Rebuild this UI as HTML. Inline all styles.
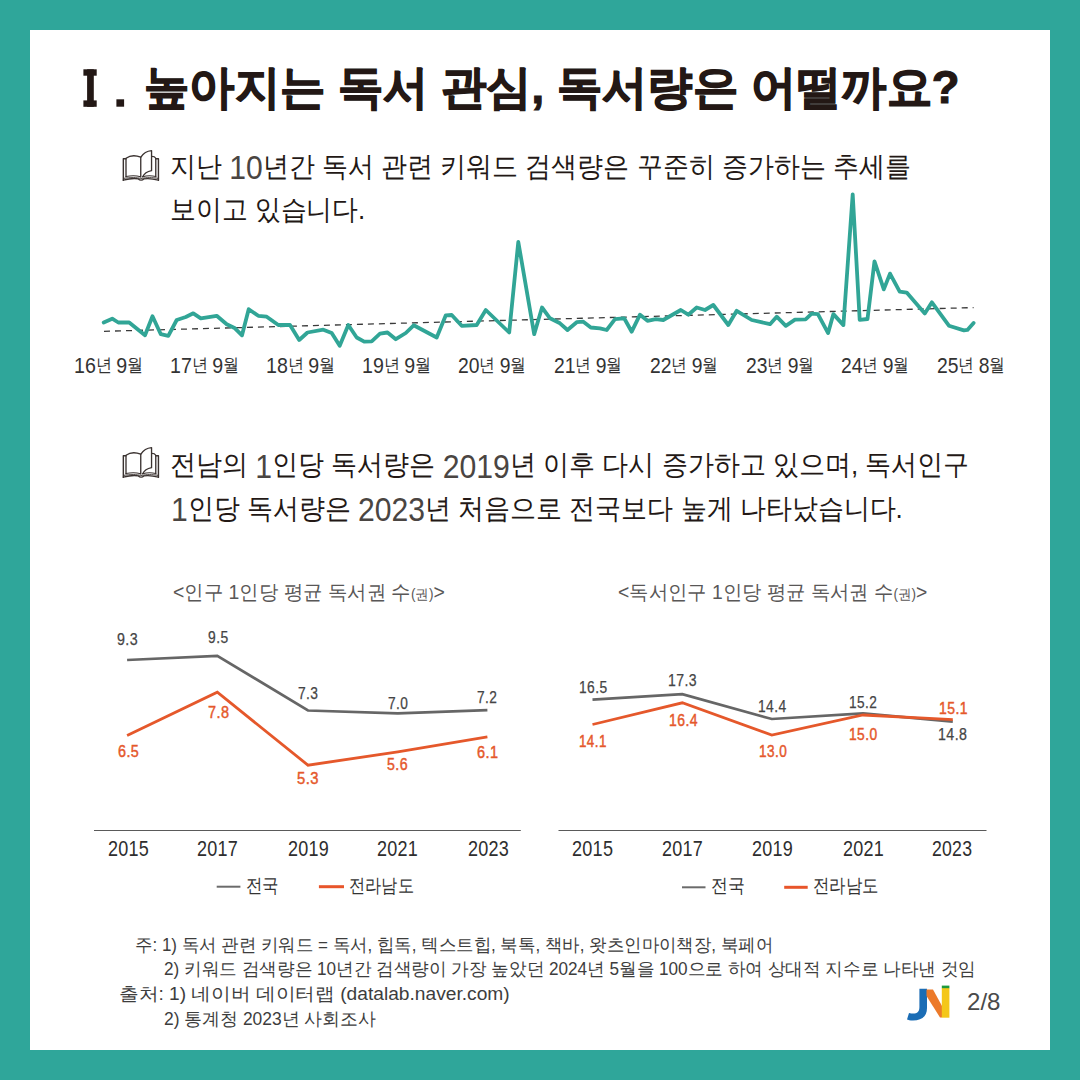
<!DOCTYPE html>
<html><head><meta charset="utf-8">
<style>
html,body{margin:0;padding:0;}
body{width:1080px;height:1080px;position:relative;overflow:hidden;background:#2fa69a;font-family:"Liberation Sans",sans-serif;color:#231815;}
#card{position:absolute;left:30px;top:30px;width:1020px;height:1020px;background:#fff;}
.t{position:absolute;white-space:nowrap;line-height:1;transform-origin:0 0;}
.t small{font-size:14px;}
svg{position:absolute;left:0;top:0;}
</style></head><body>
<div id="card"></div>
<svg width="1080" height="1080" viewBox="0 0 1080 1080">
  <defs>
    <g id="book" fill="none" stroke="#3a3230" stroke-width="30" stroke-linejoin="round" stroke-linecap="round">
      <path d="M180,690 V275 C280,205 420,215 512,252 V695"/>
      <path d="M180,688 C280,668 420,668 508,692" stroke-width="24"/>
      <path d="M515,250 C570,165 650,115 755,105 V555 C660,575 590,620 555,692"/>
      <path d="M760,235 C800,235 835,250 850,275 V690"/>
      <path d="M555,692 C640,668 770,668 850,688" stroke-width="24"/>
      <path d="M180,285 H120 V770 M850,285 H910 V770" stroke-width="32"/>
      <path d="M125,728 C280,705 430,710 505,728 H550 C620,710 770,705 905,728" stroke-width="22"/>
      <path d="M120,770 C250,735 400,728 460,742 C490,778 550,778 580,742 C640,728 780,735 910,770" stroke-width="30"/>
    </g>
  </defs>
  <use href="#book" transform="translate(118,146) scale(0.04444)"/>
  <use href="#book" transform="translate(118,443) scale(0.04444)"/>
  <line x1="104" y1="331.3" x2="973.6" y2="307.6" stroke="#3a3a3a" stroke-width="1.3" stroke-dasharray="6,5"/>
  <path d="M103.7,322.5 L112.2,318.7 L118.3,322.5 L129.2,322.5 L145.0,335.3 L152.5,316.3 L160.8,334.2 L168.3,335.8 L176.7,320.0 L185.8,317.0 L193.3,313.3 L200.8,318.3 L216.7,315.8 L226.7,324.2 L235.0,328.3 L242.0,335.3 L248.7,309.2 L258.3,315.8 L266.7,316.7 L278.3,325.0 L290.0,325.0 L299.2,340.0 L307.5,332.5 L323.3,329.7 L331.7,333.0 L339.7,345.8 L348.3,325.0 L356.7,337.5 L364.2,341.7 L371.7,341.3 L380.0,333.7 L387.5,332.5 L395.8,339.2 L405.8,333.0 L413.7,325.3 L436.7,337.5 L445.8,315.3 L451.7,315.0 L461.7,325.8 L476.7,325.0 L485.8,310.0 L509.2,332.5 L518.3,242.0 L534.2,334.2 L542.0,307.5 L550.0,318.3 L560.0,323.3 L567.5,330.0 L576.7,322.2 L583.3,321.7 L590.8,327.5 L600.0,328.3 L606.7,330.0 L615.0,319.2 L623.3,318.3 L624.2,318.3 L631.7,331.7 L640.0,314.7 L647.5,320.8 L655.8,319.2 L663.3,320.0 L680.8,310.0 L688.3,314.7 L696.7,307.5 L705.0,310.0 L713.3,305.0 L728.3,325.0 L736.7,310.8 L751.7,320.0 L770.0,324.2 L776.7,316.7 L785.8,325.8 L795.0,319.7 L805.6,319.3 L811.7,313.7 L817.9,314.1 L828.1,333.1 L833.4,314.1 L843.4,325.1 L852.7,194.4 L859.7,319.9 L867.5,319.0 L874.5,261.3 L883.8,289.4 L890.0,273.6 L899.7,291.7 L906.7,292.6 L924.8,313.4 L931.9,302.3 L948.9,325.7 L963.9,330.4 L967.4,329.9 L973.6,322.9" fill="none" stroke="#31a596" stroke-width="3.8" stroke-linejoin="round" stroke-linecap="round"/>
  <polyline points="127.1,660 217.3,655.8 308,710.5 397.8,713.4 487.4,710.1" fill="none" stroke="#666" stroke-width="2.7"/>
  <polyline points="127.1,735.6 217.3,692.2 308,765.2 397.8,751.9 487.4,736.8" fill="none" stroke="#e5582b" stroke-width="2.8"/>
  <line x1="94" y1="830.5" x2="520.8" y2="830.5" stroke="#5a5a5a" stroke-width="1.2"/>
  <line x1="216.7" y1="886.7" x2="240.4" y2="886.7" stroke="#6b6b6b" stroke-width="2"/>
  <line x1="318.9" y1="886.7" x2="344" y2="886.7" stroke="#e8552a" stroke-width="3"/>
  <polyline points="592.5,699.7 682.3,694.2 771.8,719 863,713.3 952.8,721.7" fill="none" stroke="#666" stroke-width="2.7"/>
  <polyline points="592.5,724.5 682.3,702.8 771.8,735.1 863,715 952.8,719.6" fill="none" stroke="#e5582b" stroke-width="2.8"/>
  <line x1="558.5" y1="830.5" x2="986.5" y2="830.5" stroke="#5a5a5a" stroke-width="1.2"/>
  <line x1="682" y1="887.3" x2="705.5" y2="887.3" stroke="#6b6b6b" stroke-width="2"/>
  <line x1="784.2" y1="887.3" x2="807.7" y2="887.3" stroke="#e8552a" stroke-width="3"/>
  <g fill="#231815">
    <rect x="83.4" y="69.3" width="13.3" height="6.4"/>
    <rect x="87.1" y="69.3" width="6.7" height="37.5"/>
    <rect x="83.4" y="100.4" width="13.3" height="6.4"/>
    <rect x="116.4" y="99.3" width="7.7" height="7.4"/>
  </g>
  <g id="logo">
    <path d="M919.4,988.7 H927 V1008 C927,1016 922,1020.5 913,1020.5 C910,1020.5 908,1020 907,1019.5 L909,1013 C910.5,1013.5 912,1013.6 913,1013.6 C917.5,1013.6 919.4,1011.5 919.4,1007 Z" fill="#1b6db5"/>
    <path d="M926.5,989.5 H933 L942,1006 V1017.5 H940 L926.5,996 Z" fill="#ec7a2a"/>
    <rect x="941.8" y="988" width="7.6" height="29.7" fill="#f4c71a"/>
    <rect x="941.8" y="985.6" width="7.6" height="2.6" fill="#1f9a3c"/>
  </g>
</svg>
<div class="t" id="title" style="left:143.80px;top:63.70px;transform:scaleX(0.9849);font-size:46px;font-weight:bold;-webkit-text-stroke:1.2px #231815;">높아지는 독서 관심, 독서량은 어떨까요?</div>
<div class="t" id="s1a" style="left:169.89px;top:148.80px;transform:scaleX(0.9280);font-size:28px;">지난 <span style="font-size:1.16em;position:relative;top:0.1em;color:#4a4542;">10</span>년간 독서 관련 키워드 검색량은 꾸준히 증가하는 추세를</div>
<div class="t" id="s1b" style="left:169.89px;top:196.00px;transform:scaleX(0.9231);font-size:28px;">보이고 있습니다.</div>
<div class="t" id="s2a" style="left:169.89px;top:447.30px;transform:scaleX(0.9293);font-size:28px;">전남의 <span style="font-size:1.16em;position:relative;top:0.1em;color:#4a4542;">1</span>인당 독서량은 <span style="font-size:1.16em;position:relative;top:0.1em;color:#4a4542;">2019</span>년 이후 다시 증가하고 있으며, 독서인구</div>
<div class="t" id="s2b" style="left:170.62px;top:490.50px;transform:scaleX(0.9278);font-size:28px;"><span style="font-size:1.16em;position:relative;top:0.1em;color:#4a4542;">1</span>인당 독서량은 <span style="font-size:1.16em;position:relative;top:0.1em;color:#4a4542;">2023</span>년 처음으로 전국보다 높게 나타났습니다.</div>
<div class="t" id="xl0" style="left:74.10px;top:353.00px;transform:scaleX(0.8921);font-size:18px;color:#333;"><span style="font-size:1.22em;position:relative;top:0.09em;">16</span>년 <span style="font-size:1.22em;position:relative;top:0.09em;">9</span>월</div>
<div class="t" id="xl1" style="left:169.91px;top:353.00px;transform:scaleX(0.8921);font-size:18px;color:#333;"><span style="font-size:1.22em;position:relative;top:0.09em;">17</span>년 <span style="font-size:1.22em;position:relative;top:0.09em;">9</span>월</div>
<div class="t" id="xl2" style="left:265.69px;top:353.00px;transform:scaleX(0.8925);font-size:18px;color:#333;"><span style="font-size:1.22em;position:relative;top:0.09em;">18</span>년 <span style="font-size:1.22em;position:relative;top:0.09em;">9</span>월</div>
<div class="t" id="xl3" style="left:361.50px;top:353.00px;transform:scaleX(0.8921);font-size:18px;color:#333;"><span style="font-size:1.22em;position:relative;top:0.09em;">19</span>년 <span style="font-size:1.22em;position:relative;top:0.09em;">9</span>월</div>
<div class="t" id="xl4" style="left:458.20px;top:353.00px;transform:scaleX(0.8790);font-size:18px;color:#333;"><span style="font-size:1.22em;position:relative;top:0.09em;">20</span>년 <span style="font-size:1.22em;position:relative;top:0.09em;">9</span>월</div>
<div class="t" id="xl5" style="left:554.00px;top:353.00px;transform:scaleX(0.8792);font-size:18px;color:#333;"><span style="font-size:1.22em;position:relative;top:0.09em;">21</span>년 <span style="font-size:1.22em;position:relative;top:0.09em;">9</span>월</div>
<div class="t" id="xl6" style="left:649.81px;top:353.00px;transform:scaleX(0.8792);font-size:18px;color:#333;"><span style="font-size:1.22em;position:relative;top:0.09em;">22</span>년 <span style="font-size:1.22em;position:relative;top:0.09em;">9</span>월</div>
<div class="t" id="xl7" style="left:745.61px;top:353.00px;transform:scaleX(0.8792);font-size:18px;color:#333;"><span style="font-size:1.22em;position:relative;top:0.09em;">23</span>년 <span style="font-size:1.22em;position:relative;top:0.09em;">9</span>월</div>
<div class="t" id="xl8" style="left:841.41px;top:353.00px;transform:scaleX(0.8790);font-size:18px;color:#333;"><span style="font-size:1.22em;position:relative;top:0.09em;">24</span>년 <span style="font-size:1.22em;position:relative;top:0.09em;">9</span>월</div>
<div class="t" id="xl9" style="left:937.20px;top:353.00px;transform:scaleX(0.8790);font-size:18px;color:#333;"><span style="font-size:1.22em;position:relative;top:0.09em;">25</span>년 <span style="font-size:1.22em;position:relative;top:0.09em;">8</span>월</div>
<div class="t" id="ct1" style="left:172.97px;top:581.50px;transform:scaleX(0.9709);font-size:20px;color:#595757;">&lt;인구 1인당 평균 독서권 수<small>(권)</small>&gt;</div>
<div class="t" id="ct2" style="left:618.00px;top:581.50px;transform:scaleX(0.9662);font-size:20px;color:#595757;">&lt;독서인구 1인당 평균 독서권 수<small>(권)</small>&gt;</div>
<div class="t" id="v0" style="left:117.26px;top:632.30px;transform:scaleX(0.8909);font-size:16px;letter-spacing:0.5px;color:#454545;-webkit-text-stroke:0.25px #454545;">9.3</div>
<div class="t" id="v1" style="left:207.83px;top:630.10px;transform:scaleX(0.8653);font-size:16px;letter-spacing:0.5px;color:#454545;-webkit-text-stroke:0.25px #454545;">9.5</div>
<div class="t" id="v2" style="left:298.25px;top:686.00px;transform:scaleX(0.8623);font-size:16px;letter-spacing:0.5px;color:#454545;-webkit-text-stroke:0.25px #454545;">7.3</div>
<div class="t" id="v3" style="left:387.95px;top:695.60px;transform:scaleX(0.8554);font-size:16px;letter-spacing:0.5px;color:#454545;-webkit-text-stroke:0.25px #454545;">7.0</div>
<div class="t" id="v4" style="left:477.24px;top:689.80px;transform:scaleX(0.8554);font-size:16px;letter-spacing:0.5px;color:#454545;-webkit-text-stroke:0.25px #454545;">7.2</div>
<div class="t" id="v5" style="left:117.61px;top:744.00px;transform:scaleX(0.8955);font-size:16px;letter-spacing:0.5px;color:#e5582b;-webkit-text-stroke:0.45px #e5582b;">6.5</div>
<div class="t" id="v6" style="left:207.73px;top:705.00px;transform:scaleX(0.9024);font-size:16px;letter-spacing:0.5px;color:#e5582b;-webkit-text-stroke:0.45px #e5582b;">7.8</div>
<div class="t" id="v7" style="left:296.55px;top:770.50px;transform:scaleX(0.9218);font-size:16px;letter-spacing:0.5px;color:#e5582b;-webkit-text-stroke:0.45px #e5582b;">5.3</div>
<div class="t" id="v8" style="left:387.04px;top:757.00px;transform:scaleX(0.8833);font-size:16px;letter-spacing:0.5px;color:#e5582b;-webkit-text-stroke:0.45px #e5582b;">5.6</div>
<div class="t" id="v9" style="left:477.29px;top:745.20px;transform:scaleX(0.9046);font-size:16px;letter-spacing:0.5px;color:#e5582b;-webkit-text-stroke:0.45px #e5582b;">6.1</div>
<div class="t" id="v10" style="left:579.21px;top:679.80px;transform:scaleX(0.8615);font-size:16px;letter-spacing:0.5px;color:#454545;-webkit-text-stroke:0.25px #454545;">16.5</div>
<div class="t" id="v11" style="left:668.48px;top:672.60px;transform:scaleX(0.8780);font-size:16px;letter-spacing:0.5px;color:#454545;-webkit-text-stroke:0.25px #454545;">17.3</div>
<div class="t" id="v12" style="left:758.30px;top:699.00px;transform:scaleX(0.8640);font-size:16px;letter-spacing:0.5px;color:#454545;-webkit-text-stroke:0.25px #454545;">14.4</div>
<div class="t" id="v13" style="left:849.46px;top:695.00px;transform:scaleX(0.8519);font-size:16px;letter-spacing:0.5px;color:#454545;-webkit-text-stroke:0.25px #454545;">15.2</div>
<div class="t" id="v14" style="left:938.27px;top:726.50px;transform:scaleX(0.8872);font-size:16px;letter-spacing:0.5px;color:#454545;-webkit-text-stroke:0.25px #454545;">14.8</div>
<div class="t" id="v15" style="left:579.18px;top:733.90px;transform:scaleX(0.8373);font-size:16px;letter-spacing:0.5px;color:#e5582b;-webkit-text-stroke:0.45px #e5582b;">14.1</div>
<div class="t" id="v16" style="left:669.27px;top:713.20px;transform:scaleX(0.8735);font-size:16px;letter-spacing:0.5px;color:#e5582b;-webkit-text-stroke:0.45px #e5582b;">16.4</div>
<div class="t" id="v17" style="left:759.24px;top:743.90px;transform:scaleX(0.8484);font-size:16px;letter-spacing:0.5px;color:#e5582b;-webkit-text-stroke:0.45px #e5582b;">13.0</div>
<div class="t" id="v18" style="left:849.40px;top:727.10px;transform:scaleX(0.8615);font-size:16px;letter-spacing:0.5px;color:#e5582b;-webkit-text-stroke:0.45px #e5582b;">15.0</div>
<div class="t" id="v19" style="left:938.95px;top:700.90px;transform:scaleX(0.8721);font-size:16px;letter-spacing:0.5px;color:#e5582b;-webkit-text-stroke:0.45px #e5582b;">15.1</div>
<div class="t" id="yr0" style="left:107.72px;top:839.00px;transform:scaleX(0.8375);font-size:21.5px;letter-spacing:0.3px;color:#2e2e2e;">2015</div>
<div class="t" id="yr1" style="left:197.00px;top:839.00px;transform:scaleX(0.8376);font-size:21.5px;letter-spacing:0.3px;color:#2e2e2e;">2017</div>
<div class="t" id="yr2" style="left:287.83px;top:839.00px;transform:scaleX(0.8372);font-size:21.5px;letter-spacing:0.3px;color:#2e2e2e;">2019</div>
<div class="t" id="yr3" style="left:377.49px;top:839.00px;transform:scaleX(0.8375);font-size:21.5px;letter-spacing:0.3px;color:#2e2e2e;">2021</div>
<div class="t" id="yr4" style="left:467.60px;top:839.00px;transform:scaleX(0.8390);font-size:21.5px;letter-spacing:0.3px;color:#2e2e2e;">2023</div>
<div class="t" id="yr5" style="left:572.00px;top:839.00px;transform:scaleX(0.8412);font-size:21.5px;letter-spacing:0.3px;color:#2e2e2e;">2015</div>
<div class="t" id="yr6" style="left:662.00px;top:839.00px;transform:scaleX(0.8369);font-size:21.5px;letter-spacing:0.3px;color:#2e2e2e;">2017</div>
<div class="t" id="yr7" style="left:752.45px;top:839.00px;transform:scaleX(0.8372);font-size:21.5px;letter-spacing:0.3px;color:#2e2e2e;">2019</div>
<div class="t" id="yr8" style="left:842.58px;top:839.00px;transform:scaleX(0.8376);font-size:21.5px;letter-spacing:0.3px;color:#2e2e2e;">2021</div>
<div class="t" id="yr9" style="left:932.00px;top:839.00px;transform:scaleX(0.8209);font-size:21.5px;letter-spacing:0.3px;color:#2e2e2e;">2023</div>
<div class="t" id="lg0" style="left:246.17px;top:875.80px;transform:scaleX(0.8662);font-size:19px;color:#333;">전국</div>
<div class="t" id="lg1" style="left:349.14px;top:875.80px;transform:scaleX(0.8531);font-size:19px;color:#333;">전라남도</div>
<div class="t" id="lg2" style="left:710.93px;top:875.80px;transform:scaleX(0.8889);font-size:19px;color:#333;">전국</div>
<div class="t" id="lg3" style="left:813.14px;top:875.80px;transform:scaleX(0.8649);font-size:19px;color:#333;">전라남도</div>
<div class="t" id="fn1" style="left:135.32px;top:936.50px;transform:scaleX(0.9695);font-size:17.5px;color:#3d3d3d;">주: 1) 독서 관련 키워드 = 독서, 힙독, 텍스트힙, 북톡, 책바, 왓츠인마이책장, 북페어</div>
<div class="t" id="fn2" style="left:163.71px;top:961.00px;transform:scaleX(0.9794);font-size:17.5px;color:#3d3d3d;">2) 키워드 검색량은 10년간 검색량이 가장 높았던 2024년 5월을 100으로 하여 상대적 지수로 나타낸 것임</div>
<div class="t" id="fn3" style="left:119.23px;top:986.00px;transform:scaleX(1.0958);font-size:17.5px;color:#3d3d3d;">출처: 1) 네이버 데이터랩 (datalab.naver.com)</div>
<div class="t" id="fn4" style="left:164.20px;top:1010.70px;transform:scaleX(0.9954);font-size:17.5px;color:#3d3d3d;">2) 통계청 2023년 사회조사</div>
<div class="t" id="pg" style="left:966.65px;top:989.70px;transform:scaleX(1.0034);font-size:24px;color:#4a4a4a;">2/8</div>
</body></html>
